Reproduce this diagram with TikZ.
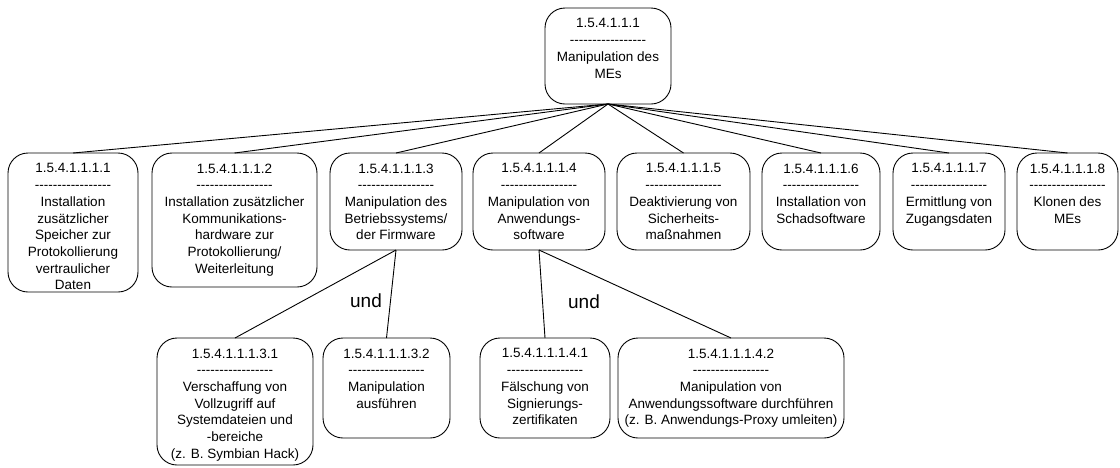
\documentclass[tikz,border=0pt]{standalone}
\usepackage{fontspec}
\setmainfont{Liberation Sans}
% a row of single hyphens, kept apart so they never merge into dashes
\newcommand\sepdashes{\mbox{-}\mbox{-}\mbox{-}\mbox{-}\mbox{-}\mbox{-}\mbox{-}\mbox{-}\mbox{-}\mbox{-}\mbox{-}\mbox{-}\mbox{-}\mbox{-}\mbox{-}\mbox{-}\mbox{-}}
\begin{document}
\begin{tikzpicture}[x=1pt,y=-1pt,
  box/.style={draw, line width=0.9pt, rounded corners=20pt, inner sep=0pt, outer sep=0pt, anchor=north west},
  boxtext/.style={anchor=north, inner sep=0pt, align=center, font=\fontsize{13.5}{16.7}\selectfont, yshift=-10.5pt},
  link/.style={line width=0.9pt},
  andlabel/.style={font=\fontsize{19}{22}\selectfont, inner sep=0pt}]
\useasboundingbox (0,0) rectangle (1120,467);

% root
\node[box, minimum width=126pt, minimum height=96pt] (top) at (545,8) {};
\node[boxtext] (topt) at (top.north) {1.5.4.1.1.1\\\sepdashes\\Manipulation des\\MEs};

% first level
\node[box, minimum width=130pt, minimum height=139pt] (b1) at (8,153) {};
\node[boxtext] (b1t) at (b1.north) {1.5.4.1.1.1.1\\\sepdashes\\Installation\\zusätzlicher\\Speicher zur\\Protokollierung\\vertraulicher\\Daten};

\node[box, minimum width=165pt, minimum height=134pt] (b2) at (152,153) {};
\node[boxtext] (b2t) at (b2.north) {1.5.4.1.1.1.2\\\sepdashes\\Installation zusätzlicher\\Kommunikations-\\hardware zur\\Protokollierung/\\Weiterleitung};

\node[box, minimum width=132pt, minimum height=97pt] (b3) at (330,153) {};
\node[boxtext] (b3t) at (b3.north) {1.5.4.1.1.1.3\\\sepdashes\\Manipulation des\\Betriebssystems/\\der Firmware};

\node[box, minimum width=132pt, minimum height=97pt] (b4) at (473,153) {};
\node[boxtext] (b4t) at (b4.north) {1.5.4.1.1.1.4\\\sepdashes\\Manipulation von\\Anwendungs-\\software};

\node[box, minimum width=133pt, minimum height=97pt] (b5) at (617,153) {};
\node[boxtext] (b5t) at (b5.north) {1.5.4.1.1.1.5\\\sepdashes\\Deaktivierung von\\Sicherheits-\\maßnahmen};

\node[box, minimum width=118pt, minimum height=97pt] (b6) at (762,153) {};
\node[boxtext] (b6t) at (b6.north) {1.5.4.1.1.1.6\\\sepdashes\\Installation von\\Schadsoftware};

\node[box, minimum width=112pt, minimum height=97pt] (b7) at (893,153) {};
\node[boxtext] (b7t) at (b7.north) {1.5.4.1.1.1.7\\\sepdashes\\Ermittlung von\\Zugangsdaten};

\node[box, minimum width=101pt, minimum height=97pt] (b8) at (1017,153) {};
\node[boxtext] (b8t) at (b8.north) {1.5.4.1.1.1.8\\\sepdashes\\Klonen des\\MEs};

% second level
\node[box, minimum width=156pt, minimum height=127pt] (b31) at (157,338) {};
\node[boxtext] (b31t) at (b31.north) {1.5.4.1.1.1.3.1\\\sepdashes\\Verschaffung von\\Vollzugriff auf\\Systemdateien und\\-bereiche\\(z. B. Symbian Hack)};

\node[box, minimum width=127pt, minimum height=100pt] (b32) at (323,338) {};
\node[boxtext] (b32t) at (b32.north) {1.5.4.1.1.1.3.2\\\sepdashes\\Manipulation\\ausführen};

\node[box, minimum width=130pt, minimum height=100pt] (b41) at (480,338) {};
\node[boxtext] (b41t) at (b41.north) {1.5.4.1.1.1.4.1\\\sepdashes\\Fälschung von\\Signierungs-\\zertifikaten};

\node[box, minimum width=226pt, minimum height=100pt] (b42) at (618,338) {};
\node[boxtext] (b42t) at (b42.north) {1.5.4.1.1.1.4.2\\\sepdashes\\Manipulation von\\Anwendungssoftware durchführen\\(z. B. Anwendungs-Proxy umleiten)};

% connectors
\foreach \c in {b1,b2,b3,b4,b5,b6,b7,b8}
  \draw[link] (top.south) -- (\c.north);
\draw[link] (b3.south) -- (b31.north);
\draw[link] (b3.south) -- (b32.north);
\draw[link] (b4.south) -- (b41.north);
\draw[link] (b4.south) -- (b42.north);

% conjunction labels
\node[andlabel] (und3) at (366,301) {und};
\node[andlabel] (und4) at (584,302) {und};
\end{tikzpicture}
\end{document}
